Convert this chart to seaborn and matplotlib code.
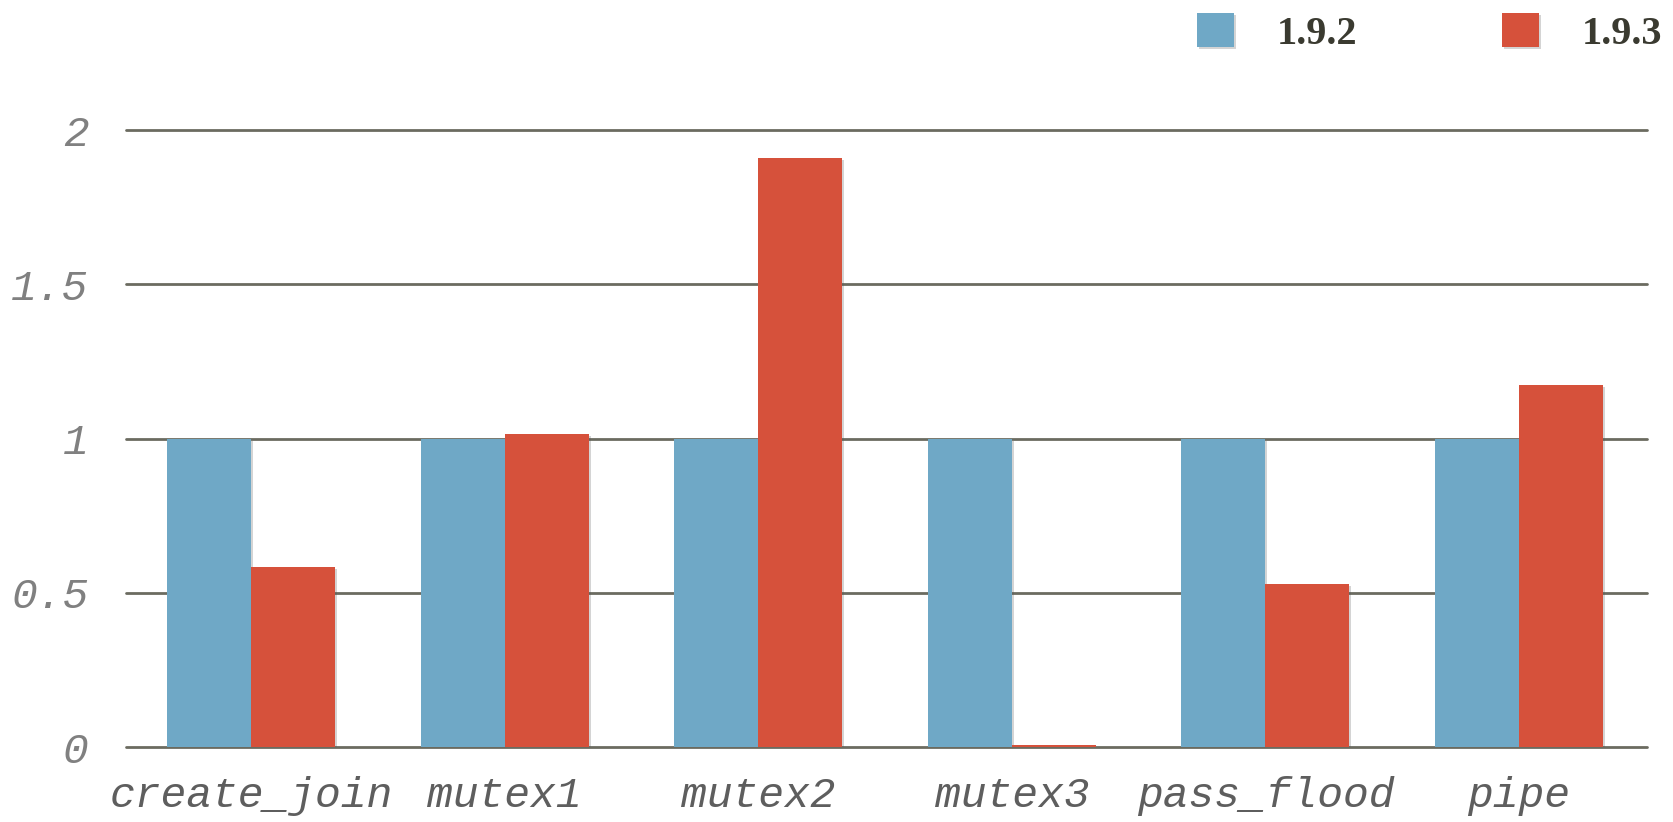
import pandas as pd
import matplotlib
matplotlib.use("Agg")
import matplotlib.pyplot as plt
import matplotlib.patheffects as pe
import seaborn as sns

# values
tests = ["create_join", "mutex1", "mutex2", "mutex3", "pass_flood", "pipe"]
v192 = [1.0, 1.0, 1.0, 1.0, 1.0, 1.0]
v193 = [0.583, 1.016, 1.91, 0.005, 0.53, 1.175]
versions = ["1.9.2", "1.9.3"]
colors = ["#6fa8c6", "#d6513b"]

df = pd.DataFrame({
    "test": tests * 2,
    "version": [versions[0]] * len(tests) + [versions[1]] * len(tests),
    "value": v192 + v193,
})

sns.set_style("white")
fig = plt.figure(figsize=(16.74, 8.22), dpi=100)
ax = fig.add_axes([0.0753, 0.0912, 0.9086, 0.7506])

sns.barplot(data=df, x="test", y="value", hue="version", order=tests,
            hue_order=versions, palette=colors, width=0.662, saturation=1,
            edgecolor="none", linewidth=0, ax=ax, zorder=3)

for p in ax.patches:
    p.set_path_effects([pe.SimplePatchShadow(offset=(1.5, -1.5), alpha=0.25, shadow_rgbFace="#555555"), pe.Normal()])

ax.set_ylim(0, 2)
ax.set_xlim(-0.493, 5.505)
ax.set_yticks([0, 0.5, 1, 1.5, 2])
ax.set_yticklabels(["0", "0.5", "1", "1.5", "2"])
ax.yaxis.grid(True, color="#6b6b60", linewidth=2, zorder=0)
ax.set_axisbelow(True)
for gl in ax.get_ygridlines():
    gl.set_clip_on(False)
for s in ax.spines.values():
    s.set_visible(False)
ax.set_xlabel("")
ax.set_ylabel("")

mono = dict(family="Liberation Mono", style="italic")
ax.tick_params(axis="y", length=0, pad=27)
ax.tick_params(axis="x", length=0, pad=21)
for t in ax.get_yticklabels():
    t.set_fontproperties(matplotlib.font_manager.FontProperties(size=31, **mono))
    t.set_color("#808080")
for t in ax.get_xticklabels():
    t.set_fontproperties(matplotlib.font_manager.FontProperties(size=31, **mono))
    t.set_color("#5e5e5e")

handles, labels = ax.get_legend_handles_labels()
ax.legend(handles, labels, loc="upper right", bbox_to_anchor=(1.0025, 1.004),
          bbox_transform=fig.transFigure, ncol=2, frameon=False,
          handlelength=0.92, handleheight=0.92, handletextpad=1.05,
          columnspacing=3.6, borderaxespad=0.0,
          prop=dict(family="Liberation Serif", weight="bold", size=29))
for t in ax.get_legend().get_texts():
    t.set_color("#3a3a30")

fig.savefig("out.png", dpi=100)
